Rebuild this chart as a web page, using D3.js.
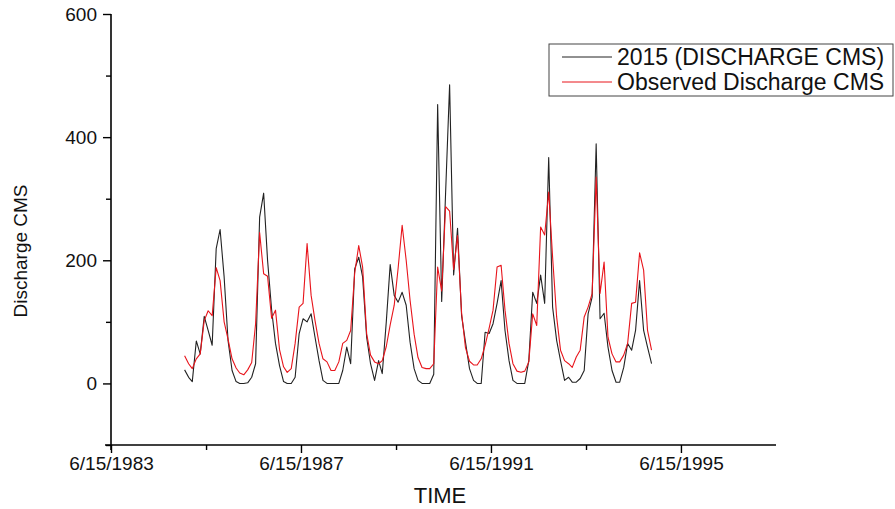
<!DOCTYPE html>
<html>
<head>
<meta charset="utf-8">
<script src="https://cdn.jsdelivr.net/npm/d3@7"></script>
<style>
  html, body { margin: 0; padding: 0; background: #fff; }
  svg { display: block; font-family: "Liberation Sans", Arial, sans-serif; }
</style>
</head>
<body>
<svg id="chart" width="895" height="509"></svg>
<script>
// ---------- data ----------
const seriesNames = ["2015 (DISCHARGE CMS)", "Observed Discharge CMS"];
const firstMonth = "1985-01-01"; // monthly values from this month on
const simulated = [
  22, 10, 3, 69, 48, 109, 86, 62, 219, 250, 173, 70,
  21, 3, 0, 0, 1, 10, 32, 270, 309, 200, 120, 65,
  29, 3, 0, 0, 10, 81, 105, 100, 113, 75, 37, 5,
  0, 0, 0, 0, 21, 59, 32, 186, 205, 173, 75, 32,
  5, 37, 16, 100, 193, 143, 132, 148, 127, 67, 24, 5,
  0, 0, 0, 15, 453, 133, 309, 485, 176, 252, 110, 67,
  24, 5, 0, 0, 83, 81, 97, 130, 167, 86, 37, 5,
  0, 0, 0, 37, 148, 130, 176, 130, 367, 124, 70, 37,
  5, 10, 2, 2, 8, 21, 113, 140, 389, 105, 114, 59,
  21, 2, 2, 26, 65, 54, 86, 167, 86, 59, 32
];
const observed = [
  45, 32, 24, 40, 48, 102, 118, 110, 188, 167, 100, 72,
  40, 25, 17, 14, 22, 34, 97, 245, 178, 174, 106, 119,
  55, 27, 18, 24, 65, 124, 130, 227, 143, 102, 65, 40,
  35, 21, 21, 35, 65, 70, 86, 179, 224, 189, 81, 46,
  35, 32, 37, 60, 95, 127, 187, 257, 200, 135, 80, 42,
  26, 24, 24, 32, 189, 150, 287, 280, 185, 240, 115, 58,
  36, 30, 30, 40, 62, 90, 119, 189, 192, 119, 65, 32,
  20, 18, 20, 35, 113, 94, 254, 241, 311, 205, 108, 54,
  37, 32, 26, 43, 54, 108, 124, 146, 335, 146, 197, 75,
  48, 35, 35, 46, 65, 130, 132, 212, 184, 86, 54
];
const xDomain = ["1983-06-15", "1997-06-15"];
const xMajorTicks = ["1983-06-15", "1987-06-15", "1991-06-15", "1995-06-15"];
const xMinorTicks = ["1985-06-15", "1989-06-15", "1993-06-15"];
const yDomain = [-100, 600];
const yMajorTicks = [0, 200, 400, 600];
const yMinorTicks = [-100, 100, 300, 500];
const xTitle = "TIME";
const yTitle = "Discharge CMS";

// ---------- drawing ----------
const parse = d3.utcParse("%Y-%m-%d");
const svg = d3.select("#chart");

const x = d3.scaleUtc().domain(xDomain.map(parse)).range([111, 776]);
const y = d3.scaleLinear().domain(yDomain).range([445, 14]);

const start = parse(firstMonth);
const dates = simulated.map((_, i) => d3.utcMonth.offset(start, i));

const fmt = d3.utcFormat("%-m/%-d/%Y");

const line = d3.line().x(d => x(d[0])).y(d => y(d[1]));

const colors = ["#222222", "#e8141b"];
const widths = [1.1, 1.1];
const data = [simulated, observed];

data.forEach((vals, k) => {
  svg.append("path")
    .datum(vals.map((v, i) => [dates[i], v]))
    .attr("fill", "none")
    .attr("stroke", colors[k])
    .attr("stroke-width", widths[k])
    .attr("stroke-linejoin", "round")
    .attr("d", line);
});

const FONT = "'Liberation Sans', Arial, sans-serif";

// X axis
const gx = svg.append("g").attr("transform", "translate(0,445)");
gx.call(d3.axisBottom(x).tickValues(xMinorTicks.map(parse)).tickSize(5).tickFormat(""));
gx.call(g => g.select(".domain").remove());
const gx2 = svg.append("g").attr("transform", "translate(0,445)");
gx2.call(d3.axisBottom(x).tickValues(xMajorTicks.map(parse)).tickSize(8).tickPadding(4).tickFormat(fmt));
gx2.select(".domain").attr("d", "M105,0H776").attr("stroke-width", 1.6);
[gx, gx2].forEach(g => g.selectAll(".tick line").attr("stroke-width", 1.4).attr("stroke", "#000"));
gx2.selectAll(".tick text").attr("font-size", 19).attr("fill", "#111").attr("font-family", FONT);

// Y axis
const gy = svg.append("g").attr("transform", "translate(111,0)");
gy.call(d3.axisLeft(y).tickValues(yMinorTicks).tickSize(5).tickFormat(""));
gy.call(g => g.select(".domain").remove());
const gy2 = svg.append("g").attr("transform", "translate(111,0)");
gy2.call(d3.axisLeft(y).tickValues(yMajorTicks).tickSize(8).tickPadding(6).tickFormat(d3.format("d")));
gy2.select(".domain").attr("d", "M0,14V450").attr("stroke-width", 1.6);
[gy, gy2].forEach(g => g.selectAll(".tick line").attr("stroke-width", 1.4).attr("stroke", "#000"));
gy2.selectAll(".tick text").attr("font-size", 19).attr("fill", "#111").attr("font-family", FONT);

// Axis titles
svg.append("text")
  .attr("x", 440).attr("y", 503)
  .attr("text-anchor", "middle")
  .attr("font-size", 22).attr("fill", "#111")
  .text(xTitle);
svg.append("text")
  .attr("transform", "translate(27,251) rotate(-90)")
  .attr("text-anchor", "middle")
  .attr("font-size", 19).attr("fill", "#111")
  .text(yTitle);

// Legend
const lg = svg.append("g");
lg.append("rect")
  .attr("x", 549).attr("y", 44).attr("width", 344).attr("height", 52)
  .attr("fill", "#fff").attr("stroke", "#444").attr("stroke-width", 1);
seriesNames.forEach((name, k) => {
  const ly = 57 + k * 25;
  lg.append("line")
    .attr("x1", 562).attr("x2", 612).attr("y1", ly).attr("y2", ly)
    .attr("stroke", colors[k]).attr("stroke-width", 1);
  lg.append("text")
    .attr("x", 617).attr("y", ly + 8)
    .attr("font-size", 23).attr("fill", "#111")
    .text(name);
});
</script>
</body>
</html>
